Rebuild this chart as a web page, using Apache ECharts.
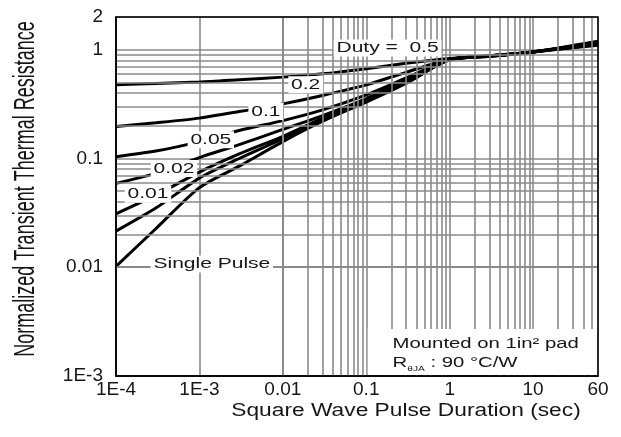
<!DOCTYPE html>
<html><head><meta charset="utf-8">
<script src="https://cdn.jsdelivr.net/npm/echarts@6/dist/echarts.min.js"></script>
<style>html,body{margin:0;padding:0;background:#fff}#c{width:621px;height:437px}</style>
</head><body><div id="c"></div>
<script>
// Pulse duration samples (sec)
const pulseTimes = [1e-4, 3e-4, 1e-3, 3e-3, 0.01, 0.03, 0.1, 0.3, 1, 3, 10, 60];
// Normalized transient thermal resistance
const duty05 = [0.477, 0.49, 0.505, 0.53, 0.56, 0.60, 0.67, 0.75, 0.83, 0.88, 0.955, 1.10];
const duty02 = [0.197, 0.213, 0.235, 0.27, 0.318, 0.38, 0.475, 0.62, 0.82, 0.88, 0.955, 1.12];
const duty01 = [0.104, 0.117, 0.143, 0.181, 0.223, 0.28, 0.385, 0.55, 0.815, 0.875, 0.955, 1.14];
const duty005 = [0.059, 0.073, 0.102, 0.134, 0.185, 0.248, 0.355, 0.53, 0.81, 0.875, 0.955, 1.15];
const duty002 = [0.031, 0.046, 0.075, 0.11, 0.16, 0.235, 0.345, 0.51, 0.81, 0.87, 0.955, 1.16];
const duty001 = [0.0215, 0.035, 0.066, 0.10, 0.152, 0.228, 0.338, 0.50, 0.81, 0.87, 0.955, 1.18];
const singlePulse = [0.0102, 0.0226, 0.054, 0.085, 0.143, 0.22, 0.33, 0.49, 0.81, 0.87, 0.955, 1.20];

const xTickValues = [1e-4, 1e-3, 0.01, 0.1, 1, 10, 60];
const xTickLabels = ['1E-4', '1E-3', '0.01', '0.1', '1', '10', '60'];
const yTickValues = [0.001, 0.01, 0.1, 1, 2];
const yTickLabels = ['1E-3', '0.01', '0.1', '1', '2'];

// Curve annotations
const curveLabelTexts = ['Duty =  0.5', '0.2', '0.1', '0.05', '0.02', '0.01', 'Single Pulse'];
const curveLabelT = [0.18, 0.0188, 0.00625, 0.00137, 0.000495, 0.000242, 0.00141];
const curveLabelR = [1.04, 0.477, 0.27, 0.149, 0.081, 0.0468, 0.0107];

const X_MIN = 1e-4, X_MAX = 60, Y_MIN = 1e-3, Y_MAX = 2;
const GRID_COLOR = '#8a8a8a';
const GRID_W = 1.6;
const TXT = '#161616';
const FONT = 'Liberation Sans, Arial, sans-serif';
const STRETCH = 1.4;

function fmt(values, labels) {
  return function (v) {
    for (let i = 0; i < values.length; i++) {
      if (Math.abs(Math.log10(v) - Math.log10(values[i])) < 1e-4) return labels[i];
    }
    return '';
  };
}

// minor grid positions (2..9 per decade)
const xMinor = [], yMinor = [];
for (let e = -4; e <= 1; e++) for (let k = 2; k <= 9; k++) { const v = k * Math.pow(10, e); if (v < X_MAX) xMinor.push(v); }
for (let e = -3; e <= 0; e++) for (let k = 2; k <= 9; k++) { const v = k * Math.pow(10, e); if (v < Y_MAX) yMinor.push(v); }

const chart = echarts.init(document.getElementById('c'), null, { renderer: 'canvas' });

function curve(name, vals) {
  return {
    name, type: 'line', z: 3, smooth: 0.25, showSymbol: false, symbol: 'none', silent: true,
    lineStyle: { color: '#000', width: 3 },
    data: pulseTimes.map((t, i) => [t, vals[i]])
  };
}

chart.setOption({
  animation: false,
  backgroundColor: '#fff',
  grid: { left: 116, right: 23, top: 17, bottom: 61, containLabel: false },
  xAxis: {
    type: 'log', logBase: 10, min: X_MIN, max: X_MAX,
    axisLine: { show: true, lineStyle: { color: '#000', width: 1.5 } },
    axisTick: { show: false },
    axisLabel: { formatter: fmt(xTickValues, xTickLabels), fontFamily: FONT, fontSize: 19, color: TXT, margin: 4 },
    splitLine: { show: true, lineStyle: { color: GRID_COLOR, width: GRID_W } }
  },
  yAxis: {
    type: 'log', logBase: 10, min: Y_MIN, max: Y_MAX,
    axisLine: { show: true, lineStyle: { color: '#000', width: 1.5 } },
    axisTick: { show: false },
    axisLabel: { formatter: fmt(yTickValues, yTickLabels), fontFamily: FONT, fontSize: 19, color: TXT, margin: 13 },
    splitLine: { show: true, lineStyle: { color: GRID_COLOR, width: GRID_W } }
  },
  series: [
    {
      name: 'grid', type: 'line', z: 1, silent: true, showSymbol: false, symbol: 'none',
      lineStyle: { opacity: 0 }, data: [[X_MIN, Y_MIN]],
      markLine: {
        silent: true, symbol: ['none', 'none'], animation: false, label: { show: false },
        lineStyle: { color: GRID_COLOR, width: GRID_W, type: 'solid' },
        data: xMinor.map(v => ({ xAxis: v })).concat(yMinor.map(v => ({ yAxis: v })))
      }
    },
    curve('Duty = 0.5', duty05),
    curve('0.2', duty02),
    curve('0.1', duty01),
    curve('0.05', duty005),
    curve('0.02', duty002),
    curve('0.01', duty001),
    curve('Single Pulse', singlePulse)
  ]
});

function px(t, r) { return chart.convertToPixel({ gridIndex: 0 }, [t, r]); }

const tl = px(X_MIN, Y_MAX), br = px(X_MAX, Y_MIN);
const graphics = [];

// Mounted-on box (white, hides grid)
const boxTL = px(0.1, 0.0027);
graphics.push({
  type: 'rect', z: 10, silent: true,
  shape: { x: boxTL[0] + 1.5, y: boxTL[1], width: br[0] - boxTL[0] - 2.5, height: br[1] - boxTL[1] - 1 },
  style: { fill: '#fff' }
});
const m1 = px(0.207, 0.00197), m2 = px(0.207, 0.00131);
graphics.push({
  type: 'text', z: 11, silent: true, x: m1[0], y: m1[1], scaleX: 1.45,
  style: { text: 'Mounted on 1in² pad', fontFamily: FONT, fontSize: 14, fill: TXT, align: 'left', verticalAlign: 'middle' }
});
graphics.push({
  type: 'text', z: 11, silent: true, x: m2[0], y: m2[1], scaleX: 1.45,
  style: {
    text: '{a|R}{s|θJA}{a| : 90 °C/W}', fontFamily: FONT, fontSize: 14, fill: TXT, align: 'left', verticalAlign: 'middle',
    rich: {
      a: { fontFamily: FONT, fontSize: 14, fill: TXT, lineHeight: 18, verticalAlign: 'middle' },
      s: { fontFamily: FONT, fontSize: 7, fill: TXT, lineHeight: 18, verticalAlign: 'bottom' }
    }
  }
});

// Curve labels
for (let i = 0; i < curveLabelTexts.length; i++) {
  const p = px(curveLabelT[i], curveLabelR[i]);
  graphics.push({
    type: 'text', z: 12, silent: true, x: p[0], y: p[1], scaleX: STRETCH,
    style: {
      text: curveLabelTexts[i], fontFamily: FONT, fontSize: 15, fill: TXT, align: 'center', verticalAlign: 'middle',
      backgroundColor: '#fff', padding: [1, 2, 1, 2]
    }
  });
}

// Plot frame
graphics.push({
  type: 'rect', z: 20, silent: true,
  shape: { x: tl[0], y: tl[1], width: br[0] - tl[0], height: br[1] - tl[1] },
  style: { fill: null, stroke: '#000', lineWidth: 1.5 }
});

// Axis titles
graphics.push({
  type: 'text', z: 20, silent: true, x: 406, y: 411, scaleX: 1.3,
  style: { text: 'Square Wave Pulse Duration (sec)', fontFamily: FONT, fontSize: 17.5, fill: TXT, align: 'center', verticalAlign: 'middle' }
});
graphics.push({
  type: 'text', z: 20, silent: true, x: 26, y: 189, rotation: Math.PI / 2, scaleY: 1.6,
  style: { text: 'Normalized Transient Thermal Resistance', fontFamily: FONT, fontSize: 18, fill: TXT, align: 'center', verticalAlign: 'middle' }
});

chart.setOption({ graphic: { elements: graphics } });
</script>
</body></html>
